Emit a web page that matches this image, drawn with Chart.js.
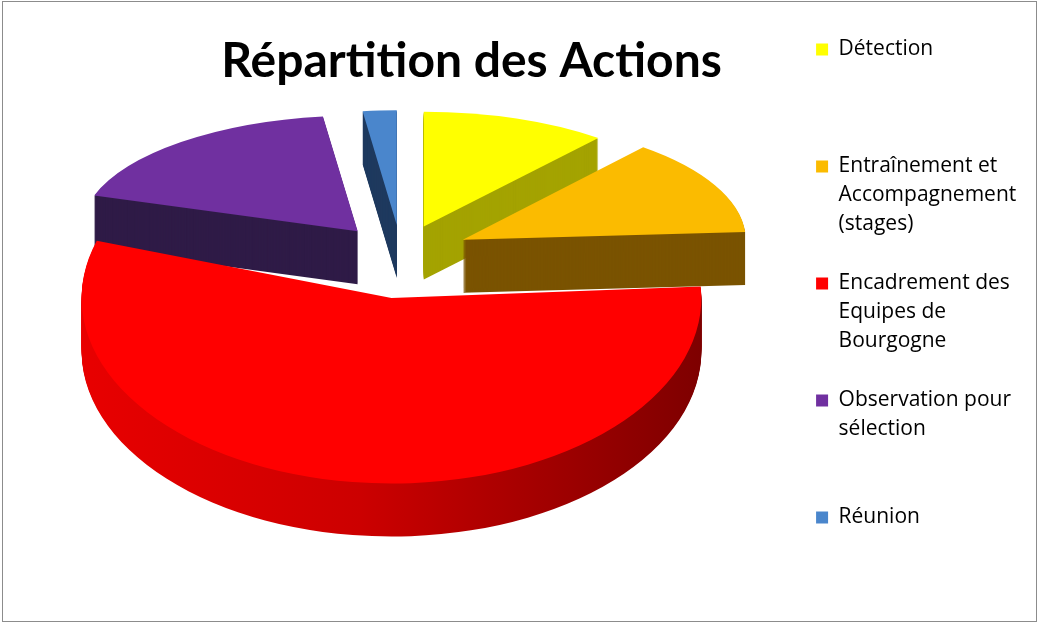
<!DOCTYPE html>
<html lang="fr">
<head>
<meta charset="utf-8">
<title>Répartition des Actions</title>
<script src="https://cdn.jsdelivr.net/npm/chart.js@4.4.1/dist/chart.umd.min.js"></script>
<style>
  html, body { margin: 0; padding: 0; background: #fff; }
  #container { width: 1039px; height: 623px; }
</style>
</head>
<body>
<div id="container"><canvas id="chart" width="1039" height="623"></canvas></div>
<script>
const chartTitle = "Répartition des Actions";
// legend text, one entry per line as in the original
const categories = [
  ["Détection"],
  ["Entraînement et", "Accompagnement", "(stages)"],
  ["Encadrement des", "Equipes de", "Bourgogne"],
  ["Observation pour", "sélection"],
  ["Réunion"],
];
const shares = [11, 13, 56, 18, 2];

const topColors = ["#ffff00", "#fbbb00", "#ff0000", "#7030a0", "#4a86cc"];
const sideColors = ["#a4a300", "#7a5300", null, "#2f1b47", "#1f3a5f"];

// fake 3d look: far side squashed and shrunk a bit more than near side
const TILT_BACK = 0.37;
const TILT_FRONT = 0.6;
const SHRINK_BACK = 0.88;
const EXPLODE = 76;
const DEPTH = 53;
const PIE_X = 401;
const PIE_Y = 253;
const LEGEND_ROWS = 4;

function placeSlice(ctx, el, drop) {
  const mid = (el.startAngle + el.endAngle) / 2;
  const s = Math.sin(mid); // -1 far, +1 near
  const near = (1 + s) / 2;
  const k = TILT_BACK + (TILT_FRONT - TILT_BACK) * near * near;
  const sx = SHRINK_BACK + (1 - SHRINK_BACK) * near;
  ctx.translate(
    PIE_X + Math.cos(mid) * EXPLODE * sx,
    PIE_Y + s * EXPLODE * k + drop
  );
  ctx.scale(sx, k);
  ctx.translate(-el.x, -el.y);
}

function drawWith(ctx, el, color) {
  const opts = el.options;
  el.options = Object.assign({}, opts, { backgroundColor: color, offset: 0, borderWidth: 0 });
  el.draw(ctx);
  el.options = opts;
}

const pie3d = {
  id: "pie3d",
  beforeDatasetsDraw(chart) {
    const ctx = chart.ctx;
    const arcs = chart.getDatasetMeta(0).data;
    // back slices first
    const depthOf = (el) => Math.sin((el.startAngle + el.endAngle) / 2);
    const order = arcs.map((el, i) => i).sort((a, b) => depthOf(arcs[a]) - depthOf(arcs[b]));

    // sides
    order.forEach((i) => {
      const el = arcs[i];
      let color = sideColors[i];
      if (!color) {
        const r = el.outerRadius;
        color = ctx.createLinearGradient(el.x - r, 0, el.x + r, 0);
        color.addColorStop(0, "#e80000");
        color.addColorStop(0.45, "#cc0000");
        color.addColorStop(1, "#7e0000");
      }
      for (let d = DEPTH; d > 0; d--) {
        ctx.save();
        placeSlice(ctx, el, d);
        drawWith(ctx, el, color);
        ctx.restore();
      }
    });

    // tops
    order.forEach((i) => {
      const el = arcs[i];
      ctx.save();
      placeSlice(ctx, el, 0);
      drawWith(ctx, el, topColors[i]);
      ctx.restore();
    });
    return false;
  },
};

const frame = {
  id: "frame",
  beforeDraw(chart) {
    const ctx = chart.ctx;
    ctx.save();
    ctx.fillStyle = "#ffffff";
    ctx.fillRect(0, 0, chart.width, chart.height);
    ctx.strokeStyle = "#8c8c8c";
    ctx.lineWidth = 1;
    ctx.strokeRect(2.5, 1.5, chart.width - 5, chart.height - 3);
    ctx.restore();
  },
};

const data = {
  labels: categories,
  datasets: [
    {
      data: shares,
      backgroundColor: topColors,
      borderWidth: 0,
      offset: 0,
      hoverOffset: 0,
    },
  ],
};

const config = {
  type: "pie",
  data: data,
  options: {
    responsive: false,
    animation: false,
    events: [],
    radius: 310,
    layout: {
      padding: { top: 38, left: 128, right: 18, bottom: 0 },
    },
    plugins: {
      title: {
        display: true,
        text: chartTitle,
        fullSize: false,
        color: "#000",
        font: { family: "Lato", size: 48, weight: "bold", lineHeight: 1 },
        padding: { top: 0, bottom: 0 },
      },
      legend: {
        position: "right",
        align: "start",
        labels: {
          boxWidth: 12,
          boxHeight: 12,
          padding: 1,
          color: "#000",
          font: { family: "'Open Sans'", size: 21, lineHeight: "29px" },
          generateLabels() {
            return categories.map((lines, i) => ({
              text:
                i < categories.length - 1
                  ? lines.concat(Array(LEGEND_ROWS - lines.length).fill(""))
                  : lines,
              fillStyle: topColors[i],
              strokeStyle: topColors[i],
              lineWidth: 0,
              hidden: false,
              index: i,
            }));
          },
        },
      },
      tooltip: { enabled: false },
    },
  },
  plugins: [frame, pie3d],
};

new Chart(document.getElementById("chart").getContext("2d"), config);
</script>
</body>
</html>
